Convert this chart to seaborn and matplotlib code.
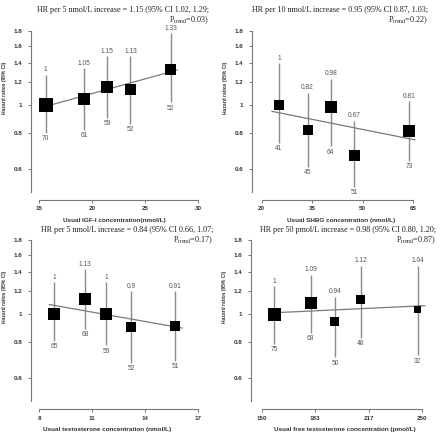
import matplotlib
matplotlib.use("Agg")
import matplotlib.pyplot as plt
import pandas as pd
import seaborn as sns

# ---- data ------------------------------------------------------------------
# panel 1: IGF-I
igf_x = [15.6, 19.25, 21.4, 23.6, 27.4]
igf_hr = [1.00, 1.05, 1.15, 1.13, 1.33]
igf_lo = [0.80, 0.82, 0.90, 0.86, 1.02]
igf_hi = [1.27, 1.34, 1.47, 1.47, 1.77]
igf_n = [70, 61, 59, 52, 52]
igf_w = [14, 12, 12, 11, 11]
igf_trend = ([15.7, 28.0], [0.99, 1.32])

# panel 2: SHBG
shbg_x = [25.1, 33.6, 40.5, 47.4, 63.8]
shbg_hr = [1.00, 0.82, 0.98, 0.67, 0.81]
shbg_lo = [0.74, 0.61, 0.72, 0.52, 0.64]
shbg_hi = [1.39, 1.10, 1.23, 0.88, 1.03]
shbg_n = [41, 45, 64, 51, 73]
shbg_w = [10, 10, 12, 11, 12]
shbg_trend = ([23.0, 65.5], [0.95, 0.757])

# panel 3: testosterone
testo_x = [8.85, 10.6, 11.8, 13.2, 15.7]
testo_hr = [1.00, 1.13, 1.00, 0.90, 0.91]
testo_lo = [0.81, 0.89, 0.78, 0.68, 0.69]
testo_hi = [1.29, 1.43, 1.29, 1.20, 1.20]
testo_n = [65, 68, 59, 52, 51]
testo_w = [12, 12, 12, 10, 10]
testo_trend = ([8.56, 16.1], [1.08, 0.895])

# panel 4: free testosterone
free_x = [157.9, 180.5, 195.6, 211.8, 247.1]
free_hr = [1.00, 1.09, 0.94, 1.12, 1.04]
free_lo = [0.79, 0.86, 0.71, 0.83, 0.72]
free_hi = [1.25, 1.37, 1.15, 1.47, 1.47]
free_n = [75, 68, 50, 48, 32]
free_w = [13, 12, 9, 9, 7]
free_trend = ([155.2, 251.7], [1.01, 1.07])

titles = [
    ("HR per 5 nmol/L increase = 1.15 (95% CI 1.02, 1.29;", "0.03)"),
    ("HR per 10 nmol/L increase = 0.95 (95% CI 0.87, 1.03;", "0.22)"),
    ("HR per 5 nmol/L increase = 0.84 (95% CI 0.66, 1.07;", "0.17)"),
    ("HR per 50 pmol/L increase = 0.98 (95% CI 0.80, 1.20;", "0.87)"),
]
xlabels = [
    "Usual IGF-I concentration(nmol/L)",
    "Usual SHBG concentration (nmol/L)",
    "Usual testosterone concentration (nmol/L)",
    "Usual free testosterone concentration (pmol/L)",
]
xticks = [[15, 20, 25, 30], [20, 35, 50, 65], [8, 11, 14, 17],
          [150, 183, 217, 250]]
yticks = [0.6, 0.8, 1, 1.2, 1.4, 1.6, 1.8]
ytick_labels = ["0.6", "0.8", "1", "1.2", "1.4", "1.6", "1.8"]

# ---- style -------------------------------------------------------------------
sns.set_style("ticks")
plt.rcParams["font.family"] = ["Liberation Sans", "DejaVu Sans"]
plt.rcParams["mathtext.fontset"] = "stix"

W, H = 440, 433
fig = plt.figure(figsize=(W / 100, H / 100), dpi=100)

# axes boxes in pixels: left, top, width, height ; plus x limits
boxes = [
    (31, 31, 175.6, 161, (14.22, 30.78)),
    (252, 31, 171, 161, (17.12, 67.88)),
    (31, 240.3, 175.6, 161, (7.53, 17.47)),
    (251, 240.3, 182, 161, (143.34, 256.66)),
]
title_pos = [(209, 10), (428, 10), (213, 230), (436, 230)]
xlab_x = [0.473, 0.52, 0.436, 0.516]

panels = [
    (igf_x, igf_hr, igf_lo, igf_hi, igf_n, igf_w, igf_trend),
    (shbg_x, shbg_hr, shbg_lo, shbg_hi, shbg_n, shbg_w, shbg_trend),
    (testo_x, testo_hr, testo_lo, testo_hi, testo_n, testo_w, testo_trend),
    (free_x, free_hr, free_lo, free_hi, free_n, free_w, free_trend),
]

grey = "#8a8a8a"
for i, (x, hr, lo, hi, n, w, trend) in enumerate(panels):
    left, top, bw, bh, xlim = boxes[i]
    ax = fig.add_axes([left / W, 1 - (top + bh) / H, bw / W, bh / H])
    df = pd.DataFrame({"x": x, "hr": hr, "lo": lo, "hi": hi, "n": n, "w": w})

    ax.vlines(df["x"], df["lo"], df["hi"], color=grey, lw=1.0, zorder=1)
    sns.lineplot(x=trend[0], y=trend[1], ax=ax, color="#7a7a7a", lw=0.9,
                 zorder=2)
    sizes = {v: (v * 0.72) ** 2 for v in df["w"].unique()}
    sns.scatterplot(data=df, x="x", y="hr", size="w", sizes=sizes,
                    marker="s", color="black", edgecolor="black",
                    linewidth=0, legend=False, ax=ax, zorder=3)

    for _, r in df.iterrows():
        ax.annotate(f"{r['hr']:g}", (r["x"], r["hi"]), xytext=(0, 3.6),
                    textcoords="offset points", ha="center", va="center",
                    fontsize=4.8, color="#555555")
        ax.annotate(f"{int(r['n'])}", (r["x"], r["lo"]), xytext=(0, -4.2),
                    textcoords="offset points", ha="center", va="center",
                    fontsize=4.8, color="#555555")

    ax.set_yscale("log")
    ax.set_ylim(0.5, 1.8)
    ax.set_xlim(*xlim)
    ax.set_yticks(yticks)
    ax.set_yticklabels(ytick_labels)
    ax.minorticks_off()
    ax.set_xticks(xticks[i])
    ax.set_xticklabels([str(t) for t in xticks[i]])

    sns.despine(ax=ax)
    ax.spines["bottom"].set_position(("outward", 5.5))
    ax.spines["bottom"].set_bounds(xticks[i][0], xticks[i][-1])
    ax.spines["left"].set_bounds(0.5, 1.8)
    for s in ("left", "bottom"):
        ax.spines[s].set_color("#777777")
        ax.spines[s].set_linewidth(0.8)
    ax.tick_params(axis="both", length=2.5, width=0.7, color="#777777",
                   labelsize=4.5, labelcolor="#333333")
    ax.tick_params(axis="y", pad=3.8)
    ax.tick_params(axis="x", pad=2.3)
    for lab in ax.get_xticklabels() + ax.get_yticklabels():
        lab.set_fontweight("bold")

    ax.set_xlabel(xlabels[i], fontsize=4.6, fontweight="bold",
                  color="#333333")
    ax.xaxis.set_label_coords(xlab_x[i], -0.16)
    ax.set_ylabel("Hazard ratios (95% CI)", fontsize=3.5, fontweight="bold",
                  color="#333333")
    ax.yaxis.set_label_coords(-0.137 * 175.6 / bw, 0.646)

    tx, ty = title_pos[i]
    fig.text(tx / W, 1 - ty / H, titles[i][0], ha="right", va="center",
             fontsize=5.85, family="Liberation Serif", color="#222222")
    fig.text(tx / W, 1 - (ty + 10) / H,
             r"P$_{\mathregular{trend}}$=" + titles[i][1], ha="right",
             va="center", fontsize=5.85, family="Liberation Serif",
             color="#222222")

fig.savefig("out.png", dpi=100)
